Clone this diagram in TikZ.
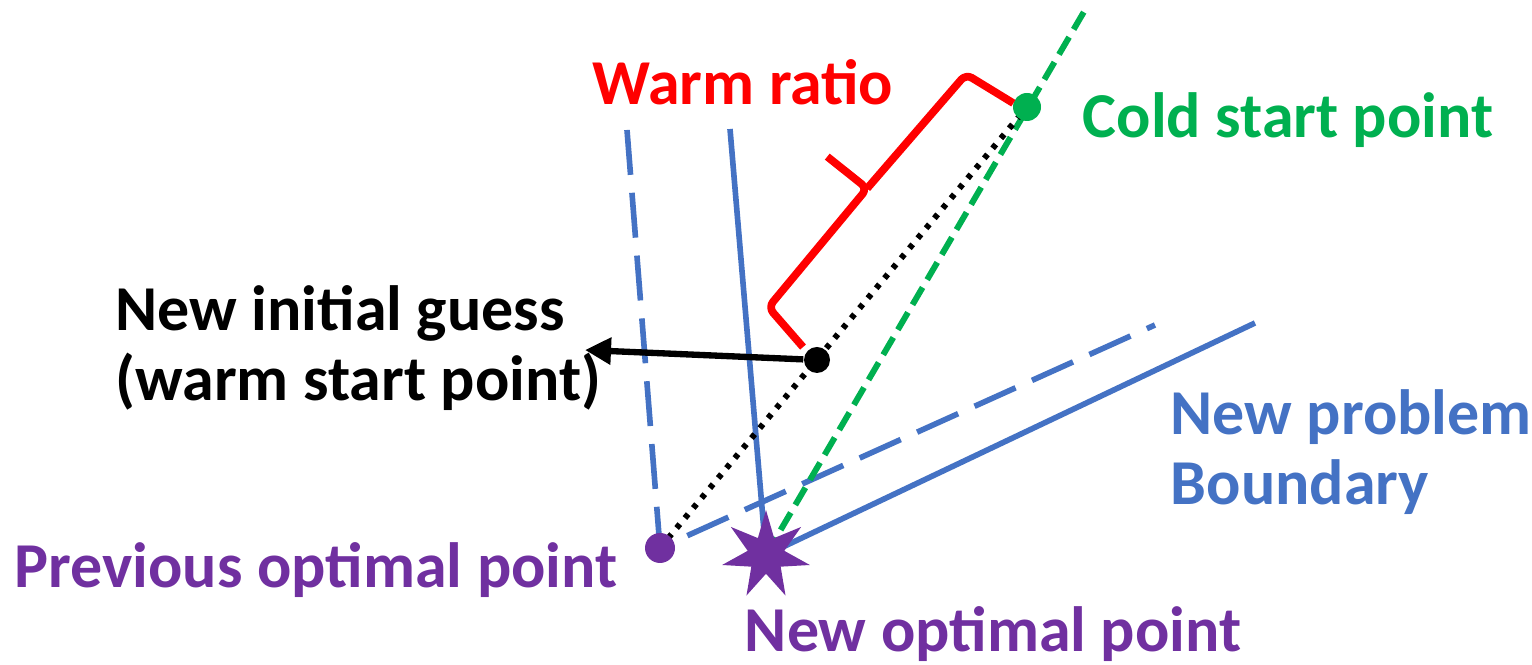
\documentclass[tikz,border=0pt]{standalone}
\usepackage{fontspec}
\setmainfont{Carlito}
\usepackage{tikz}
\usetikzlibrary{positioning,arrows.meta,shapes.geometric,backgrounds,calc}
\definecolor{azul}{HTML}{4472C4}
\definecolor{verde}{HTML}{00B050}
\definecolor{rojo}{HTML}{FF0000}
\definecolor{morado}{HTML}{7030A0}
\tikzset{
  punto/.style={circle,inner sep=0pt,minimum size=#1},
  borde/.style={color=azul,line width=1.6pt},
  bordep/.style={borde,dash pattern=on 4.5mm off 1.8mm},
  flecha/.style={-{Triangle[length=2.6mm,width=2.6mm]},line width=1.8pt},
  llave/.style={color=rojo,line width=2.2pt,rounded corners=2pt,line join=round},
  etiqueta/.style={font=\bfseries\fontsize{18.2}{20}\selectfont,inner sep=0pt},
}
\begin{document}
\begin{tikzpicture}
  \useasboundingbox (0,0) rectangle (15.32,6.65);
  % puntos
  \node[punto=3mm,fill=morado] (prev) at (6.60,1.17) {};
  \node[star,star points=7,star point ratio=2.4,minimum size=9mm,inner sep=0pt,fill=morado] (newopt) at (7.66,1.10) {};
  \node[punto=2.8mm,fill=verde] (cold) at (10.27,5.58) {};
  \node[punto=2.6mm,fill=black] (warm) at (8.17,3.05) {};
  \coordinate (oldtop) at (6.27,5.35);
  \coordinate (oldend) at (11.55,3.40);
  \coordinate (newtop) at (7.30,5.36);
  \coordinate (newend) at (12.55,3.42);
  \coordinate (coldend) at (10.85,6.55);
  \coordinate (guesstip) at (5.85,3.15);
  % etiquetas
  \node[etiqueta,color=rojo] (ratio) at (7.43,5.83) {Warm ratio};
  \node[etiqueta,color=verde] (coldlbl) at (12.88,5.45) {Cold start point};
  \node[etiqueta,align=left,anchor=west] (guess) at (1.15,3.17) {New initial guess\\(warm start point)};
  \node[etiqueta,color=azul,align=left,anchor=west] (bound) at (11.70,2.13) {New problem\\Boundary};
  \node[etiqueta,color=morado] (prevlbl) at (3.16,0.95) {Previous optimal point};
  \node[etiqueta,color=morado] (newlbl) at (9.93,0.31) {New optimal point};
  \begin{scope}[on background layer]
    \draw[bordep] (oldtop) -- (prev.center);
    \draw[bordep,shorten <=3mm] (prev.center) -- (oldend);
    \draw[borde] (newtop) -- (newopt.center) -- (newend);
    \draw[verde,line width=1.7pt,dash pattern=on 2mm off 0.9mm] (newopt.center) -- (coldend);
    \draw[line width=1.7pt,dash pattern=on 0.5mm off 0.8mm] (prev.center) -- (cold.center);
  \end{scope}
  \draw[flecha] (warm) -- (guesstip);
  \begin{scope}[shift={(warm.center)},rotate=50.3]
    \draw[llave] (0.01,0.19) -- (0.095,0.71) -- (1.64,0.71) -- (1.63,1.22)
      (1.64,0.71) -- (3.15,0.68) -- (3.23,0.13);
  \end{scope}
\end{tikzpicture}
\end{document}
